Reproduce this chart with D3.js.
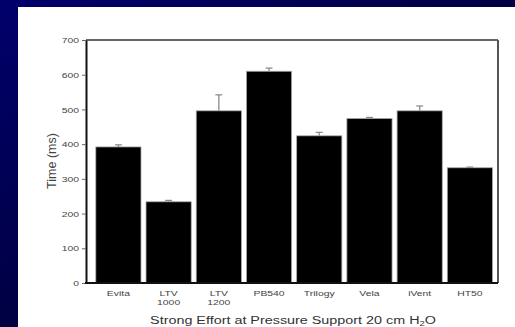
<!DOCTYPE html>
<html><head><meta charset="utf-8">
<script src="https://cdn.jsdelivr.net/npm/d3@7"></script>
<style>body{margin:0;padding:0;overflow:hidden}svg{display:block}</style>
</head><body>
<svg id="c" width="515" height="327"></svg>
<script>
const categories = ["Evita", "LTV\n1000", "LTV\n1200", "PB540", "Trilogy", "Vela", "iVent", "HT50"];
const values = [392, 234, 496, 610, 424, 474, 496, 332];
const errors = [6, 4, 46, 9, 10, 3, 14, 2];
const yTicks = [0, 100, 200, 300, 400, 500, 600, 700];

const svg = d3.select("#c");
const defs = svg.append("defs");
const g = defs.append("linearGradient").attr("id","bg").attr("x1","0").attr("y1","0").attr("x2","1").attr("y2","1");
g.append("stop").attr("offset","0").attr("stop-color","#00006c");
g.append("stop").attr("offset","1").attr("stop-color","#00001a");
svg.append("rect").attr("width",515).attr("height",327).attr("fill","url(#bg)");
svg.append("rect").attr("x",18).attr("y",7).attr("width",497).attr("height",320).attr("fill","#fff");

const L = 86, R = 498, T = 40, B = 283;
const x = d3.scaleBand().domain(categories).range([93.3, 495]).paddingInner(0.1).paddingOuter(0.05);
const y = d3.scaleLinear().domain([0, 700]).range([B, T]);
const sx = 1.3;
const ff = "Arial, Liberation Sans, sans-serif";

svg.append("line").attr("x1",L).attr("x2",R).attr("y1",T).attr("y2",T).attr("stroke","#333").attr("stroke-width",1.5);
svg.append("line").attr("x1",R).attr("x2",R).attr("y1",T).attr("y2",B).attr("stroke","#555").attr("stroke-width",2);

svg.selectAll("rect.bar").data(values).join("rect").attr("class","bar")
  .attr("x",(d,i)=>x(categories[i])).attr("width",x.bandwidth())
  .attr("y",d=>y(d)).attr("height",d=>B-y(d))
  .attr("fill","#000").attr("stroke","#aaa").attr("stroke-width",0.8);

values.forEach((v,i)=>{
  const cx = x(categories[i]) + x.bandwidth()/2;
  svg.append("line").attr("x1",cx).attr("x2",cx).attr("y1",y(v)).attr("y2",y(v+errors[i])).attr("stroke","#999").attr("stroke-width",1.5);
  svg.append("line").attr("x1",cx-3.5).attr("x2",cx+3.5).attr("y1",y(v+errors[i])).attr("y2",y(v+errors[i])).attr("stroke","#888").attr("stroke-width",1.2);
});

const ya = svg.append("g").attr("transform",`translate(${L},0)`)
  .call(d3.axisLeft(y).tickValues(yTicks).tickSize(4).tickSizeOuter(0).tickPadding(3));
ya.select(".domain").attr("stroke","#111").attr("stroke-width",2);
ya.selectAll(".tick line").attr("stroke","#666");
ya.selectAll(".tick text").attr("fill","#444").attr("font-family",ff).attr("font-size",8)
  .attr("transform","scale(1.3,1)").attr("x",-7/1.3);

svg.append("line").attr("x1",L-1).attr("x2",R).attr("y1",B).attr("y2",B).attr("stroke","#111").attr("stroke-width",2);

const xa = svg.append("g");
categories.forEach(c=>{
  const cx = x(c) + x.bandwidth()/2;
  const lines = c.split("\n");
  const t = xa.append("text").attr("transform",`translate(${cx},296) scale(${sx},1)`)
    .attr("text-anchor","middle").attr("fill","#444")
    .attr("font-family",ff).attr("font-size",8);
  lines.forEach((s,k)=>t.append("tspan").attr("x",0).attr("dy",k?9.2:0).text(s));
});

svg.append("text").attr("transform","translate(56,161) rotate(-90)")
  .attr("text-anchor","middle").attr("fill","#444")
  .attr("font-family",ff).attr("font-size",12.5).text("Time (ms)");

const xt = svg.append("text").attr("transform",`translate(293,324) scale(1.25,1)`)
  .attr("text-anchor","middle").attr("fill","#333")
  .attr("font-family",ff).attr("font-size",11.5);
xt.append("tspan").text("Strong Effort at Pressure Support 20 cm H");
xt.append("tspan").attr("font-size",7.5).attr("dy",2).text("2");
xt.append("tspan").attr("dy",-2).text("O");
</script>
</body></html>
